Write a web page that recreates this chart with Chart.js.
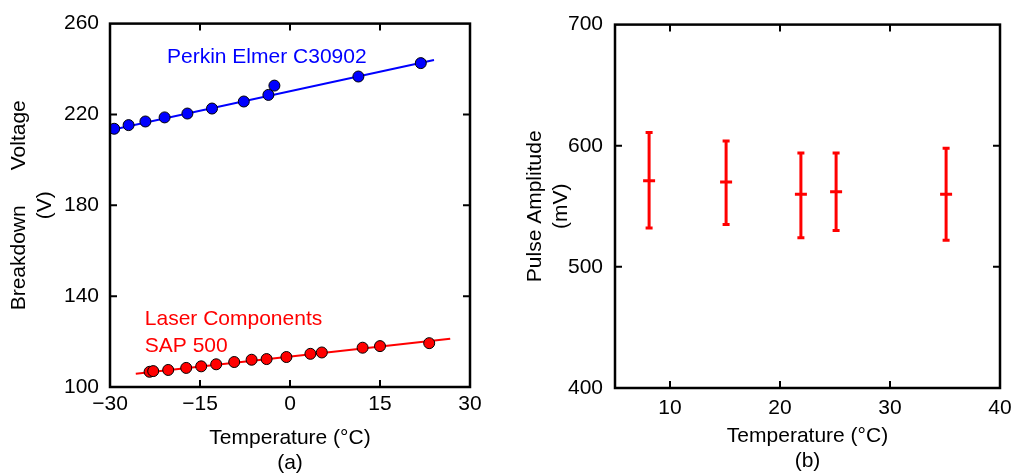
<!DOCTYPE html>
<html>
<head>
<meta charset="utf-8">
<script src="https://cdn.jsdelivr.net/npm/chart.js@4.4.1/dist/chart.umd.min.js"></script>
<style>
  html, body { margin: 0; padding: 0; background: #fff; }
  .panel { position: absolute; top: 0; height: 476px; }
  #panelA { left: 0; width: 500px; }
  #panelB { left: 510px; width: 511px; }
</style>
</head>
<body>
<div class="panel" id="panelA"><canvas id="chartA"></canvas></div>
<div class="panel" id="panelB"><canvas id="chartB"></canvas></div>
<script>
// (a) tension de claquage en fonction de la temperature
const perkinTemp = [-29.3, -26.9, -24.1, -20.9, -17.1, -13.0, -7.7, -3.6, -2.6, 11.4, 21.8];
const perkinVolt = [213.7, 215.3, 216.9, 218.7, 220.4, 222.6, 225.7, 228.6, 232.7, 236.7, 242.6];
const perkinFitTemp = [-30, 24];
const perkinFitVolt = [213.0, 244.0];

const laserTemp = [-23.4, -22.8, -20.3, -17.3, -14.8, -12.3, -9.3, -6.4, -3.9, -0.6, 3.4, 5.3, 12.1, 15.0, 23.2];
const laserVolt = [106.7, 107.0, 107.5, 108.4, 109.1, 110.0, 111.0, 112.0, 112.3, 113.2, 114.6, 115.2, 117.3, 118.0, 119.3];
const laserFitTemp = [-25.7, 26.7];
const laserFitVolt = [105.8, 121.2];

const tempTicksA = [-30, -15, 0, 15, 30];
const voltTicks = [100, 140, 180, 220, 260];

// (b) amplitude des impulsions
const ampTemp = [8.1, 15.1, 21.9, 25.1, 35.1];
const ampMean = [571, 570, 560, 562, 560];
const ampHigh = [611, 604, 594, 594, 598];
const ampLow = [532, 535, 524, 530, 522];

const tempTicksB = [10, 20, 30, 40];
const ampTicks = [400, 500, 600, 700];

Chart.defaults.font.family = '"Liberation Sans", Arial, sans-serif';
Chart.defaults.font.size = 21;
Chart.defaults.color = '#000';

function toPoints(xs, ys) {
    return xs.map((x, i) => ({ x: x, y: ys[i] }));
}

function fixedTicks(values) {
    return scale => { scale.ticks = values.map(v => ({ value: v })); };
}

// cadre noir + graduations vers l'interieur (style matlab)
const framePlugin = {
    id: 'frame',
    afterDraw(chart) {
        const { ctx, chartArea: a, scales } = chart;
        ctx.save();
        ctx.strokeStyle = '#000';
        ctx.lineWidth = 2;
        ctx.beginPath();
        scales.x.ticks.forEach(t => {
            const px = scales.x.getPixelForValue(t.value);
            if (px <= a.left + 1 || px >= a.right - 1) return;
            ctx.moveTo(px, a.bottom); ctx.lineTo(px, a.bottom - 7);
            ctx.moveTo(px, a.top); ctx.lineTo(px, a.top + 7);
        });
        scales.y.ticks.forEach(t => {
            const py = scales.y.getPixelForValue(t.value);
            if (py <= a.top + 1 || py >= a.bottom - 1) return;
            ctx.moveTo(a.left, py); ctx.lineTo(a.left + 7, py);
            ctx.moveTo(a.right, py); ctx.lineTo(a.right - 7, py);
        });
        ctx.stroke();
        ctx.lineWidth = 2.5;
        ctx.strokeRect(a.left, a.top, a.right - a.left, a.bottom - a.top);
        ctx.restore();
    }
};

// textes des deux series
const labelsA = [
    { text: 'Perkin Elmer C30902', x: -20.5, y: 242.5, color: '#0000ff' },
    { text: 'Laser Components', x: -24.2, y: 127.3, color: '#ff0000' },
    { text: 'SAP 500', x: -24.2, y: 115.5, color: '#ff0000' }
];
const labelPlugin = {
    id: 'seriesLabels',
    afterDatasetsDraw(chart) {
        const { ctx, scales } = chart;
        ctx.save();
        ctx.font = '21px "Liberation Sans", Arial, sans-serif';
        ctx.textBaseline = 'alphabetic';
        labelsA.forEach(l => {
            ctx.fillStyle = l.color;
            ctx.fillText(l.text, scales.x.getPixelForValue(l.x), scales.y.getPixelForValue(l.y));
        });
        ctx.restore();
    }
};

// barres d'erreur
const errorBarPlugin = {
    id: 'errorBars',
    beforeDatasetsDraw(chart) {
        const { ctx, scales } = chart;
        ctx.save();
        ctx.strokeStyle = '#ff0000';
        ctx.lineWidth = 3;
        ctx.beginPath();
        ampTemp.forEach((t, i) => {
            const px = scales.x.getPixelForValue(t);
            const top = scales.y.getPixelForValue(ampHigh[i]);
            const bot = scales.y.getPixelForValue(ampLow[i]);
            ctx.moveTo(px, top); ctx.lineTo(px, bot);
            ctx.moveTo(px - 3.5, top); ctx.lineTo(px + 3.5, top);
            ctx.moveTo(px - 3.5, bot); ctx.lineTo(px + 3.5, bot);
        });
        ctx.stroke();
        ctx.restore();
    }
};

const chartA = new Chart(document.getElementById('chartA'), {
    type: 'scatter',
    data: {
        datasets: [
            {
                data: toPoints(perkinTemp, perkinVolt),
                backgroundColor: '#0000ff',
                borderColor: '#000',
                borderWidth: 1,
                pointRadius: 5.5,
                order: 1
            },
            {
                data: toPoints(laserTemp, laserVolt),
                backgroundColor: '#ff0000',
                borderColor: '#000',
                borderWidth: 1,
                pointRadius: 5.5,
                order: 1
            },
            {
                data: toPoints(perkinFitTemp, perkinFitVolt),
                showLine: true,
                borderColor: '#0000ff',
                borderWidth: 2,
                pointRadius: 0,
                order: 2
            },
            {
                data: toPoints(laserFitTemp, laserFitVolt),
                showLine: true,
                borderColor: '#ff0000',
                borderWidth: 2,
                pointRadius: 0,
                order: 2
            }
        ]
    },
    options: {
        responsive: true,
        maintainAspectRatio: false,
        animation: false,
        layout: { padding: { top: 23, right: 30, left: 0, bottom: 0 } },
        plugins: { legend: { display: false }, tooltip: { enabled: false } },
        scales: {
            x: {
                min: -30,
                max: 30,
                afterBuildTicks: fixedTicks(tempTicksA),
                afterFit: scale => { scale.height = 89; },
                grid: { display: false, drawTicks: false },
                border: { display: false },
                ticks: {
                    padding: 5,
                    maxRotation: 0,
                    callback: v => String(v).replace('-', '\u2212')
                },
                title: {
                    display: true,
                    text: ['Temperature (°C)', '(a)'],
                    padding: { top: 0, bottom: 0 }
                }
            },
            y: {
                min: 100,
                max: 260,
                afterBuildTicks: fixedTicks(voltTicks),
                afterFit: scale => { scale.width = 110; },
                grid: { display: false, drawTicks: false },
                border: { display: false },
                ticks: { padding: 11 },
                title: {
                    display: true,
                    text: ['Breakdown      Voltage', '(V)'],
                    padding: { top: 7, bottom: 0 }
                }
            }
        }
    },
    plugins: [labelPlugin, framePlugin]
});

const chartB = new Chart(document.getElementById('chartB'), {
    type: 'scatter',
    data: {
        datasets: [{
            data: toPoints(ampTemp, ampMean),
            pointStyle: 'line',
            pointRadius: 6,
            borderColor: '#ff0000',
            borderWidth: 3
        }]
    },
    options: {
        responsive: true,
        maintainAspectRatio: false,
        animation: false,
        layout: { padding: { top: 21, right: 21, left: 0, bottom: 0 } },
        plugins: { legend: { display: false }, tooltip: { enabled: false } },
        scales: {
            x: {
                min: 5,
                max: 40,
                afterBuildTicks: fixedTicks(tempTicksB),
                afterFit: scale => { scale.height = 88; },
                grid: { display: false, drawTicks: false },
                border: { display: false },
                ticks: { padding: 8, maxRotation: 0 },
                title: {
                    display: true,
                    text: ['Temperature (°C)', '(b)'],
                    padding: { top: 0, bottom: 2 }
                }
            },
            y: {
                min: 400,
                max: 700,
                afterBuildTicks: fixedTicks(ampTicks),
                afterFit: scale => { scale.width = 105; },
                grid: { display: false, drawTicks: false },
                border: { display: false },
                ticks: { padding: 12 },
                title: {
                    display: true,
                    text: ['Pulse Amplitude', '(mV)'],
                    padding: { top: 13, bottom: 0 }
                }
            }
        }
    },
    plugins: [errorBarPlugin, framePlugin]
});
</script>
</body>
</html>
